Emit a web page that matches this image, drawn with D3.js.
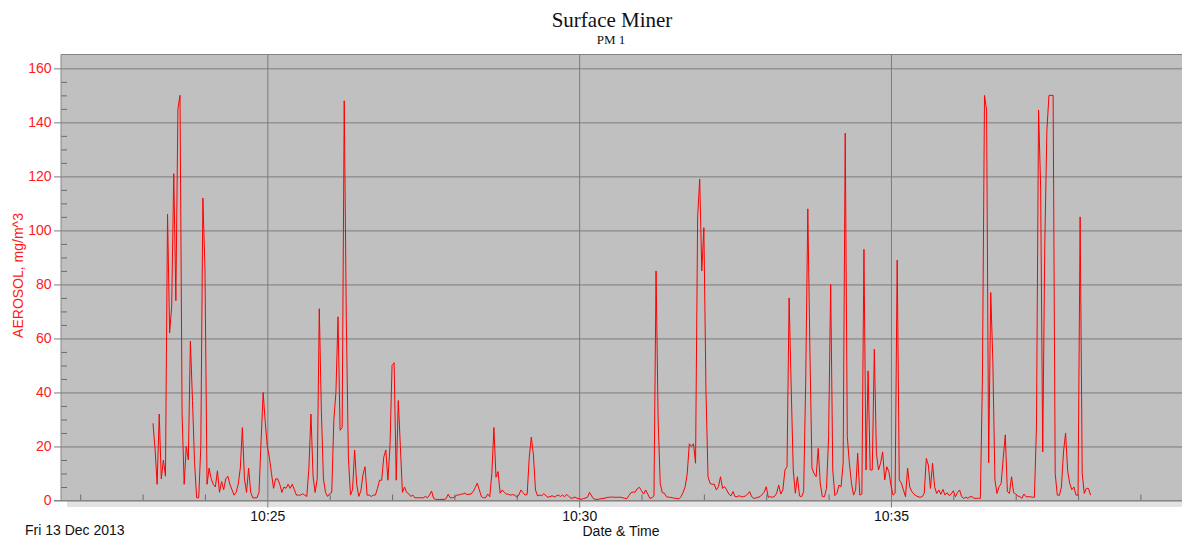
<!DOCTYPE html>
<html>
<head>
<meta charset="utf-8">
<script src="https://cdn.jsdelivr.net/npm/d3@7"></script>
<style>
    body { margin: 0; background: #fff; }
    svg { display: block; }
    .axis text { font-family: "Liberation Sans", Arial, sans-serif; font-size: 14px; }
</style>
</head>
<body>
<div id="chart"></div>
<script>
// PM 1 readings, one value every 2 seconds, one array per minute (mg/m^3)
const minutes = ["10:23", "10:24", "10:25", "10:26", "10:27", "10:28", "10:29", "10:30",
                 "10:31", "10:32", "10:33", "10:34", "10:35", "10:36", "10:37", "10:38"];
const firstSecond = 10;   // logging starts at 10:23:10

const pm1_1023 = [28.6, 19, 6, 32, 8, 15, 9, 106, 62, 72, 121, 74, 145, 150, 32, 6, 20, 15, 59, 37, 14, 1, 1, 20, 112];
const pm1_1024 = [86, 6, 12, 8, 6, 5, 11, 3, 7, 4, 8, 9, 6, 4, 2, 3, 6, 12, 27, 8, 3, 12, 3, 1, 1, 1, 3, 22, 40, 29];
const pm1_1025 = [20, 16, 10, 4.5, 8, 8, 6, 3, 5, 4.5, 6, 4.5, 6, 4, 2, 2, 2, 2.5, 2, 1.5, 12, 32, 9, 3, 8, 71, 33, 8, 3, 1.5];
const pm1_1026 = [2.5, 3, 30, 40, 68, 26, 27, 148, 67, 16, 2, 4, 18.7, 6, 1.5, 3.5, 9.5, 12.5, 2, 2, 1.5, 2, 2, 4.5, 7.5, 7.5, 16, 18.7, 7.5, 20];
const pm1_1027 = [50, 51, 7.5, 37, 20, 3, 5, 3, 2.5, 1.5, 2, 1, 1, 1, 1, 1, 1.5, 1, 2, 3.5, 0.8, 0.4, 0.4, 0.4, 0.4, 0.4, 0.7, 2.3, 1, 1];
const pm1_1028 = [1.2, 2, 2, 2.3, 2.4, 2.7, 2.2, 2.3, 2.4, 3.3, 4.8, 6.4, 3.9, 1.4, 1, 1, 2.4, 1.4, 10, 27, 8.6, 10.7, 2.7, 3.9, 3, 2.4, 2.3, 2, 2.2, 2];
const pm1_1029 = [1.2, 2, 3.9, 2.9, 2, 2.3, 16, 23.5, 16.8, 3.9, 1.7, 2, 1.8, 2.5, 1.8, 1.2, 1.4, 1.8, 1.3, 1.7, 2, 1.5, 2, 1.4, 2.3, 1.5, 0.9, 0.9, 1.3, 0.8];
const pm1_1030 = [0.7, 0.4, 0.7, 0.9, 1.2, 3, 1.7, 0.6, 0.4, 0.4, 0.6, 0.7, 0.8, 1, 1.2, 1.2, 1.3, 1.2, 1.2, 1.2, 1.2, 1, 0.8, 0.7, 1.9, 3, 3.1, 3.1, 4.4, 4.9];
const pm1_1031 = [3.6, 2.4, 3.9, 2.4, 0.8, 1, 1.7, 85, 30, 6.3, 2.9, 2.7, 1.4, 1.2, 1.2, 1, 0.8, 0.8, 0.6, 1.4, 3, 5.1, 10, 21, 20, 21, 13.8, 105, 119, 85];
const pm1_1032 = [101, 41, 8.8, 6.3, 6, 6, 3.9, 5.1, 8.8, 4.5, 5.1, 3.9, 2.4, 1.7, 3.3, 1.4, 1.4, 1.8, 1.4, 1.4, 1.7, 2.3, 3.3, 1.4, 0.8, 0.9, 1.2, 1.4, 2.3, 3];
const pm1_1033 = [5.1, 1.2, 1.4, 1.2, 1.5, 2.7, 5.7, 2.4, 3.9, 11.3, 12.5, 75, 42, 11.3, 2.7, 8.8, 1.7, 1.4, 3.3, 44.6, 108, 55.7, 12, 10, 8.8, 19.3, 6.1, 1.4, 1.4, 4.5];
const pm1_1034 = [23.6, 80, 11.3, 1.8, 2.7, 5.7, 5.1, 13.8, 136, 23.6, 13.8, 6.4, 2, 3.9, 17.5, 2, 2.4, 93, 11.3, 48, 11.3, 11.3, 56, 17.5, 11.3, 13.8, 18, 7.6, 12.5, 10.7];
const pm1_1035 = [5.7, 2, 2.7, 89, 7.6, 6.4, 3.9, 1.4, 12, 5.1, 3.3, 2.4, 1.8, 1.4, 1.2, 1.4, 2.6, 15.6, 13.1, 4.5, 13.8, 5.1, 2.6, 3.9, 2.3, 4.1, 2, 2.9, 1.8, 2.4];
const pm1_1036 = [3.6, 1.4, 3, 3.9, 1.4, 0.8, 1.2, 0.8, 1.4, 1.4, 0.8, 0.8, 0.8, 0.8, 45, 150, 144.6, 14, 77, 52, 7.6, 2.6, 5.1, 6.3, 15.6, 24.3, 3.3, 2.6, 8.8, 2.9];
const pm1_1037 = [2.4, 1.7, 1.4, 0.8, 2.4, 1.4, 1.4, 1.4, 1.2, 1.2, 27.3, 144.6, 116, 18, 95, 137, 150, 150, 150, 10, 2, 1.9, 5, 18, 25, 11, 6.3, 4, 5, 2];
const pm1_1038 = [2, 105, 10, 2.6, 4.5, 4.5, 2];

const pm1ByMinute = [pm1_1023, pm1_1024, pm1_1025, pm1_1026, pm1_1027, pm1_1028, pm1_1029, pm1_1030,
                     pm1_1031, pm1_1032, pm1_1033, pm1_1034, pm1_1035, pm1_1036, pm1_1037, pm1_1038];

const yMajor = [0, 20, 40, 60, 80, 100, 120, 140, 160];
const xMajor = ["10:25", "10:30", "10:35"];

// Helpers for the date of the recording
function at(hm, sec) {
    const [h, m] = hm.split(":").map(Number);
    return new Date(2013, 11, 13, h, m, sec);
}

// Flatten the minute arrays into one series
const data = [];
minutes.forEach((hm, k) => {
    const s0 = k === 0 ? firstSecond : 0;
    pm1ByMinute[k].forEach((v, i) => data.push({ t: at(hm, s0 + 2 * i), v: v }));
});

const width = 1182, height = 538;
const plot = { left: 61, right: 1182, top: 54.5, bottom: 500.5 };

const svg = d3.select("#chart")
    .append("svg")
    .attr("width", width)
    .attr("height", height);

const x = d3.scaleTime()
    .domain([new Date(2013, 11, 13, 10, 21, 41, 500), new Date(2013, 11, 13, 10, 39, 40)])
    .range([plot.left, plot.right]);

const y = d3.scaleLinear()
    .domain([0, 165.13])
    .range([plot.bottom, plot.top]);

// Plot background and the light strip under it
svg.append("rect")
    .attr("x", plot.left).attr("y", plot.top)
    .attr("width", plot.right - plot.left).attr("height", plot.bottom - plot.top)
    .attr("fill", "#c0c0c0");

svg.append("rect")
    .attr("x", 67).attr("y", plot.bottom)
    .attr("width", plot.right - 67).attr("height", 6.5)
    .attr("fill", "#e2e2e2");

// Horizontal grid
svg.append("g")
    .attr("transform", `translate(${plot.left},0)`)
    .call(d3.axisRight(y).tickValues(yMajor).tickSize(plot.right - plot.left).tickFormat(""))
    .call(g => g.select(".domain").remove())
    .call(g => g.selectAll("line").attr("stroke", "#7c7c7c"));

// Vertical grid at the labelled times
svg.append("g")
    .attr("transform", `translate(0,${plot.bottom})`)
    .call(d3.axisBottom(x).tickValues(xMajor.map(hm => at(hm, 0))).tickSize(-(plot.bottom - plot.top)).tickFormat(""))
    .call(g => g.select(".domain").remove())
    .call(g => g.selectAll("line").attr("stroke", "#7c7c7c"));

// Y axis: major ticks and labels
svg.append("g")
    .attr("class", "axis")
    .attr("transform", `translate(${plot.left},0)`)
    .call(d3.axisLeft(y).tickValues(yMajor).tickSize(7).tickPadding(2.5))
    .call(g => g.select(".domain").remove())
    .call(g => g.selectAll("line").attr("stroke", "#7c7c7c"))
    .call(g => g.selectAll("text").attr("fill", "#ff1a1a"));

// Y axis: minor ticks every 5
svg.append("g")
    .attr("transform", `translate(${plot.left},0)`)
    .call(d3.axisRight(y).tickValues(d3.range(5, 165, 5).filter(v => v % 20 !== 0)).tickSize(6).tickFormat(""))
    .call(g => g.select(".domain").remove())
    .call(g => g.selectAll("line").attr("stroke", "#6c6c6c"));

// X axis: labelled ticks
svg.append("g")
    .attr("class", "axis")
    .attr("transform", `translate(0,${plot.bottom})`)
    .call(d3.axisBottom(x).tickValues(xMajor.map(hm => at(hm, 0))).tickSize(7).tickPadding(3.3).tickFormat(d3.timeFormat("%H:%M")))
    .call(g => g.select(".domain").remove())
    .call(g => g.selectAll("line").attr("stroke", "#7c7c7c"))
    .call(g => g.selectAll("text").attr("fill", "#111"));

// X axis: minor ticks every minute
const minorMinutes = d3.timeMinute.range(at("10:22", 0), at("10:40", 0)).filter(d => d.getMinutes() % 5 !== 0);
svg.append("g")
    .attr("transform", `translate(0,${plot.bottom})`)
    .call(d3.axisTop(x).tickValues(minorMinutes).tickSize(6).tickFormat(""))
    .call(g => g.select(".domain").remove())
    .call(g => g.selectAll("line").attr("stroke", "#6c6c6c"));

// Plot frame (top, left, bottom)
svg.append("path")
    .attr("d", `M${plot.right},${plot.top}H${plot.left}V${plot.bottom}M54,${plot.bottom}H${plot.right}`)
    .attr("fill", "none")
    .attr("stroke", "#858585");

// Data line
const line = d3.line()
    .x(d => x(d.t))
    .y(d => y(d.v));

svg.append("path")
    .datum(data)
    .attr("d", line)
    .attr("fill", "none")
    .attr("stroke", "#ff0000")
    .attr("stroke-width", 1);

// Titles and labels
svg.append("text")
    .attr("x", 612).attr("y", 26.5)
    .attr("text-anchor", "middle")
    .style("font-family", "'Liberation Serif', 'Times New Roman', serif")
    .style("font-size", "21px")
    .attr("fill", "#111")
    .text("Surface Miner");

svg.append("text")
    .attr("x", 611).attr("y", 44.3)
    .attr("text-anchor", "middle")
    .style("font-family", "'Liberation Serif', 'Times New Roman', serif")
    .style("font-size", "13px")
    .attr("fill", "#111")
    .text("PM 1");

svg.append("text")
    .attr("transform", "translate(23,275.5) rotate(-90)")
    .attr("text-anchor", "middle")
    .style("font-family", "'Liberation Sans', Arial, sans-serif")
    .style("font-size", "14px")
    .attr("fill", "#ff1a1a")
    .text("AEROSOL, mg/m^3");

svg.append("text")
    .attr("x", 25).attr("y", 535)
    .style("font-family", "'Liberation Sans', Arial, sans-serif")
    .style("font-size", "14px")
    .attr("fill", "#111")
    .text("Fri 13 Dec 2013");

svg.append("text")
    .attr("x", 621).attr("y", 536)
    .attr("text-anchor", "middle")
    .style("font-family", "'Liberation Sans', Arial, sans-serif")
    .style("font-size", "14px")
    .attr("fill", "#111")
    .text("Date & Time");
</script>
</body>
</html>
